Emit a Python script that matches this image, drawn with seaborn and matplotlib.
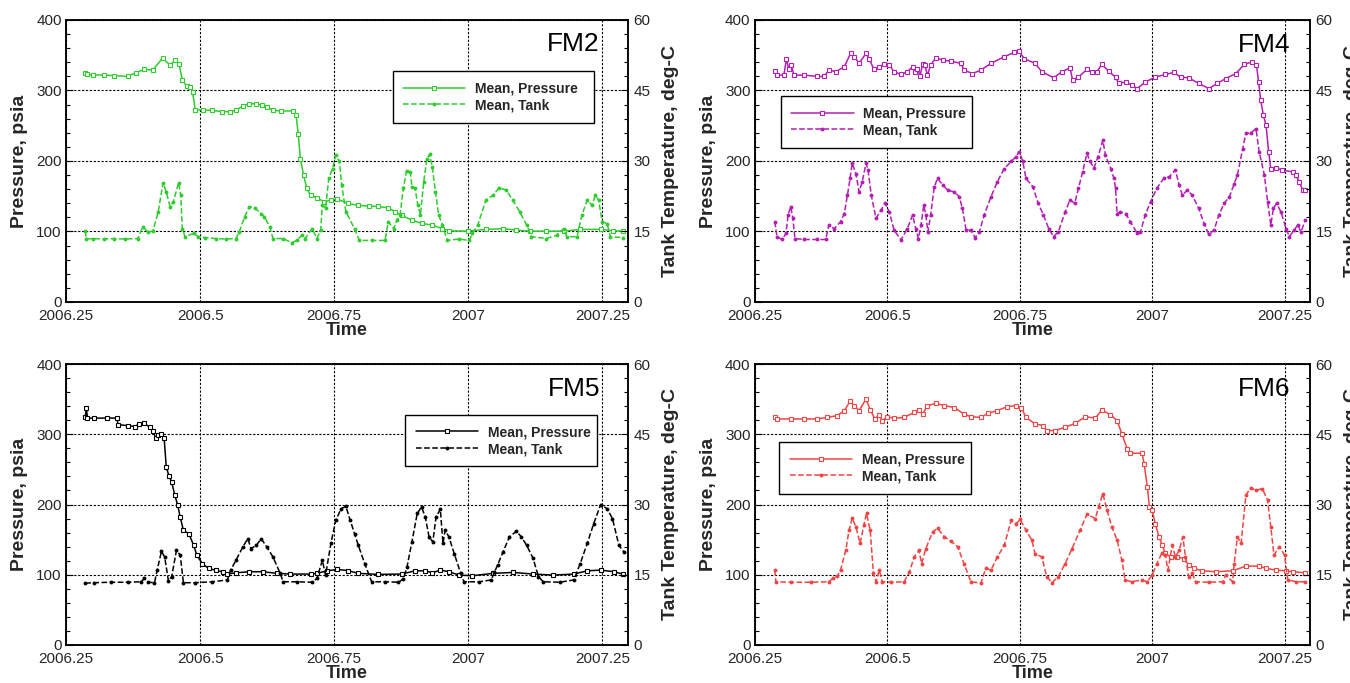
import numpy as np
import pandas as pd
import matplotlib
matplotlib.use("Agg")
import matplotlib.pyplot as plt
from matplotlib.ticker import MultipleLocator
import seaborn as sns

sns.set_style("white")
REG = ['Liberation Sans', 'DejaVu Sans']
NARROW = ['Liberation Sans Narrow', 'Liberation Sans', 'DejaVu Sans']
plt.rcParams['font.family'] = REG

# ---------------- data ----------------
# FM2
fm2_p_t = [2006.286, 2006.29, 2006.30, 2006.32, 2006.34, 2006.365, 2006.38, 2006.396, 2006.412, 2006.43,
           2006.444, 2006.453, 2006.461, 2006.467, 2006.475, 2006.482, 2006.486, 2006.491, 2006.505, 2006.523,
           2006.54, 2006.555, 2006.567, 2006.58, 2006.592, 2006.605, 2006.615, 2006.624, 2006.636, 2006.65,
           2006.674, 2006.679, 2006.683, 2006.687, 2006.693, 2006.699, 2006.706, 2006.718, 2006.731, 2006.744,
           2006.756, 2006.775, 2006.795, 2006.815, 2006.832, 2006.851, 2006.864, 2006.876, 2006.895, 2006.914,
           2006.933, 2006.952, 2006.964, 2007.0, 2007.033, 2007.065, 2007.09, 2007.115, 2007.145, 2007.178,
           2007.209, 2007.247, 2007.27, 2007.288]
fm2_p_v = [325.5, 322.7, 322, 322, 321, 320, 325, 330, 329, 346,
           336, 342.6, 337, 315, 306, 305, 298, 273, 272, 272,
           270, 270, 272, 278, 281.5, 281, 279, 277, 272, 271,
           271, 265, 239, 203.5, 180, 161, 151.5, 148, 142, 144.5,
           146, 140, 137, 136, 135.5, 133.5, 128, 123, 116, 111.5,
           109, 104, 101, 100.5, 103, 104, 102, 100.5, 100.5, 100.5,
           103, 103, 101, 100.5]
fm2_t_t = [2006.286, 2006.288, 2006.30, 2006.32, 2006.34, 2006.36, 2006.384, 2006.393, 2006.403, 2006.412,
           2006.422, 2006.431, 2006.437, 2006.444, 2006.45, 2006.46, 2006.464, 2006.467, 2006.472, 2006.488,
           2006.497, 2006.51, 2006.529, 2006.548, 2006.567, 2006.573, 2006.583, 2006.592, 2006.602, 2006.614,
           2006.62, 2006.63, 2006.636, 2006.655, 2006.671, 2006.68, 2006.69, 2006.696, 2006.709, 2006.718,
           2006.725, 2006.728, 2006.734, 2006.74, 2006.747, 2006.753, 2006.76, 2006.764, 2006.772, 2006.788,
           2006.797, 2006.82, 2006.845, 2006.851, 2006.861, 2006.867, 2006.873, 2006.879, 2006.885, 2006.892,
           2006.895, 2006.901, 2006.906, 2006.911, 2006.917, 2006.923, 2006.928, 2006.933, 2006.939, 2006.945,
           2006.952, 2006.961, 2006.983, 2007.002, 2007.008, 2007.018, 2007.033, 2007.046, 2007.058, 2007.071,
           2007.083, 2007.096, 2007.109, 2007.118, 2007.146, 2007.165, 2007.178, 2007.184, 2007.203, 2007.212,
           2007.222, 2007.231, 2007.237, 2007.243, 2007.25, 2007.259, 2007.265, 2007.288]
fm2_t_v = [15.1, 13.4, 13.5, 13.4, 13.5, 13.4, 13.5, 16.0, 14.9, 15.1,
           19.2, 25.4, 23.4, 20.3, 21.3, 25.4, 22.7, 15.6, 13.9, 14.6,
           13.9, 13.7, 13.5, 13.4, 13.5, 14.9, 18.1, 20.3, 20.0, 18.8,
           18.1, 16.0, 13.5, 13.5, 12.6, 13.1, 14.2, 13.5, 15.6, 13.5,
           15.3, 20.6, 19.9, 26.3, 28.4, 31.2, 29.9, 24.9, 19.2, 15.6,
           13.1, 13.1, 13.1, 17.1, 15.6, 17.4, 18.5, 24.2, 27.9, 27.7,
           24.5, 24.2, 20.6, 18.5, 25.5, 30.5, 31.4, 28.8, 23.4, 18.5,
           16.4, 13.1, 13.4, 13.1, 14.6, 16.4, 21.7, 22.7, 24.3, 23.8,
           21.7, 19.2, 16.4, 13.9, 13.5, 14.2, 15.6, 13.9, 13.9, 18.5,
           21.7, 20.6, 22.7, 21.7, 17.1, 16.7, 13.9, 13.7]

# FM4
fm4_p_t = [2006.288, 2006.293, 2006.305, 2006.31, 2006.314, 2006.319, 2006.324, 2006.343, 2006.368, 2006.381,
           2006.39, 2006.403, 2006.419, 2006.431, 2006.438, 2006.447, 2006.46, 2006.466, 2006.475, 2006.485,
           2006.494, 2006.504, 2006.513, 2006.526, 2006.538, 2006.548, 2006.553, 2006.557, 2006.562, 2006.567,
           2006.571, 2006.576, 2006.582, 2006.592, 2006.605, 2006.62, 2006.639, 2006.645, 2006.661, 2006.677,
           2006.696, 2006.721, 2006.74, 2006.749, 2006.759, 2006.779, 2006.792, 2006.814, 2006.83, 2006.845,
           2006.85, 2006.861, 2006.877, 2006.886, 2006.896, 2006.905, 2006.918, 2006.931, 2006.937, 2006.95,
           2006.962, 2006.972, 2006.987, 2007.006, 2007.025, 2007.041, 2007.054, 2007.069, 2007.088, 2007.107,
           2007.123, 2007.139, 2007.158, 2007.174, 2007.189, 2007.197, 2007.201, 2007.205, 2007.21, 2007.215,
           2007.22, 2007.224, 2007.234, 2007.246, 2007.265, 2007.271, 2007.278, 2007.284, 2007.289]
fm4_p_v = [327.4, 321.8, 321.8, 345, 331, 336, 321.8, 321.8, 320, 320,
           329, 326.7, 333.6, 352.5, 348, 338.5, 352.5, 345, 330, 333.6,
           337, 336, 326.7, 322.7, 326.7, 333.6, 326.7, 331, 321, 337,
           336, 321.8, 336, 346.5, 343, 341.6, 338.5, 329, 324, 329,
           338.5, 348, 354, 355.6, 345, 338.5, 326.7, 318, 326.7, 332,
           314.7, 319, 330, 326.7, 326.7, 337, 327.4, 319, 310, 312,
           307.6, 302.8, 312, 319, 322.7, 325.6, 319, 318, 310, 302.8,
           310, 317, 324, 337, 340.7, 336, 312, 286, 265, 251,
           213, 189, 190, 187, 184.6, 180, 170.5, 158.6, 158.6]
fm4_t_t = [2006.288, 2006.292, 2006.302, 2006.309, 2006.313, 2006.318, 2006.322, 2006.326, 2006.343, 2006.368,
           2006.384, 2006.39, 2006.40, 2006.412, 2006.419, 2006.425, 2006.43, 2006.434, 2006.441, 2006.447,
           2006.453, 2006.46, 2006.464, 2006.47, 2006.479, 2006.488, 2006.496, 2006.504, 2006.513, 2006.526,
           2006.538, 2006.548, 2006.554, 2006.559, 2006.564, 2006.569, 2006.573, 2006.577, 2006.582, 2006.589,
           2006.595, 2006.605, 2006.614, 2006.627, 2006.636, 2006.642, 2006.649, 2006.658, 2006.666, 2006.674,
           2006.683, 2006.696, 2006.708, 2006.721, 2006.734, 2006.743, 2006.749, 2006.756, 2006.762, 2006.775,
           2006.785, 2006.795, 2006.805, 2006.814, 2006.823, 2006.836, 2006.845, 2006.854, 2006.861, 2006.869,
           2006.877, 2006.883, 2006.89, 2006.898, 2006.907, 2006.912, 2006.922, 2006.928, 2006.931, 2006.934,
           2006.94, 2006.95, 2006.959, 2006.972, 2006.978, 2006.987, 2006.997, 2007.009, 2007.022, 2007.032,
           2007.044, 2007.051, 2007.057, 2007.066, 2007.076, 2007.088, 2007.098, 2007.107, 2007.117, 2007.126,
           2007.136, 2007.146, 2007.155, 2007.161, 2007.171, 2007.177, 2007.186, 2007.196, 2007.202, 2007.212,
           2007.218, 2007.224, 2007.229, 2007.235, 2007.243, 2007.253, 2007.259, 2007.268, 2007.275, 2007.281,
           2007.289]
fm4_t_v = [17.1, 13.9, 13.3, 14.6, 18.5, 20.3, 17.8, 13.5, 13.3, 13.3,
           13.3, 16.4, 15.6, 17.1, 18.8, 22.7, 26.3, 29.5, 27.3, 23.4,
           25.6, 29.5, 28.1, 22.7, 17.8, 19.5, 21.0, 19.2, 15.3, 13.2,
           15.6, 18.5, 15.6, 13.5, 16.4, 20.6, 18.5, 14.9, 18.5, 24.5,
           26.3, 24.9, 23.8, 23.4, 22.4, 19.9, 15.3, 15.3, 13.7, 14.9,
           18.5, 22.4, 25.6, 28.4, 29.9, 30.9, 32.0, 29.9, 26.3, 24.5,
           21.0, 18.5, 15.6, 13.9, 14.9, 19.2, 21.7, 21.0, 24.2, 27.7,
           31.6, 29.9, 28.5, 30.9, 34.4, 31.2, 28.4, 26.3, 24.2, 18.8,
           19.2, 18.8, 17.1, 14.6, 14.9, 18.5, 21.3, 24.2, 26.3, 26.6,
           28.1, 24.9, 22.7, 23.8, 22.7, 19.9, 16.7, 14.4, 15.3, 18.5,
           21.0, 22.4, 25.2, 27.0, 32.6, 35.9, 35.9, 36.9, 32.0, 27.0,
           21.3, 16.4, 19.9, 21.0, 19.2, 15.6, 13.9, 15.3, 16.4, 14.9,
           17.4]

# FM5
fm5_p_t = [2006.286, 2006.288, 2006.29, 2006.302, 2006.327, 2006.345, 2006.347, 2006.365, 2006.378, 2006.387,
           2006.396, 2006.406, 2006.412, 2006.417, 2006.422, 2006.428, 2006.433, 2006.437, 2006.442, 2006.447,
           2006.453, 2006.458, 2006.463, 2006.469, 2006.479, 2006.488, 2006.494, 2006.504, 2006.516, 2006.529,
           2006.542, 2006.551, 2006.567, 2006.592, 2006.617, 2006.643, 2006.668, 2006.706, 2006.718, 2006.737,
           2006.756, 2006.775, 2006.795, 2006.832, 2006.876, 2006.901, 2006.92, 2006.933, 2006.948, 2006.964,
           2006.983, 2007.008, 2007.046, 2007.084, 2007.121, 2007.159, 2007.197, 2007.222, 2007.247, 2007.272,
           2007.288]
fm5_p_v = [324, 338, 323, 323, 323, 323, 313.7, 312.3, 311, 314.7,
           315.6, 310, 305.3, 294.8, 299.5, 300.5, 294.8, 253, 241, 232,
           213, 200, 182, 163, 158.6, 142, 127.9, 116, 108.9, 106.6,
           104, 101, 102.8, 104.3, 104.3, 102, 101, 101, 102, 105.6,
           107.5, 106, 102, 100.5, 101, 105.6, 105.6, 102.8, 106.6, 104.3,
           99.5, 98.6, 102, 103.3, 101, 99.5, 101, 105.6, 106.6, 104.3,
           101]
fm5_t_t = [2006.286, 2006.302, 2006.333, 2006.365, 2006.39, 2006.396, 2006.403, 2006.415, 2006.42, 2006.428,
           2006.434, 2006.441, 2006.447, 2006.456, 2006.463, 2006.469, 2006.491, 2006.523, 2006.551, 2006.557,
           2006.567, 2006.58, 2006.589, 2006.595, 2006.605, 2006.614, 2006.624, 2006.636, 2006.649, 2006.655,
           2006.68, 2006.709, 2006.718, 2006.728, 2006.734, 2006.744, 2006.753, 2006.763, 2006.772, 2006.78,
           2006.788, 2006.795, 2006.807, 2006.82, 2006.845, 2006.87, 2006.879, 2006.886, 2006.895, 2006.905,
           2006.913, 2006.92, 2006.927, 2006.934, 2006.94, 2006.948, 2006.953, 2006.957, 2006.964, 2006.974,
           2006.986, 2006.992, 2007.021, 2007.043, 2007.049, 2007.055, 2007.065, 2007.077, 2007.09, 2007.099,
           2007.109, 2007.121, 2007.131, 2007.14, 2007.171, 2007.197, 2007.209, 2007.222, 2007.234, 2007.247,
           2007.259, 2007.269, 2007.281, 2007.29]
fm5_t_v = [13.2, 13.3, 13.4, 13.4, 13.5, 14.2, 13.4, 13.3, 16.0, 20.0,
           18.8, 13.7, 14.6, 20.2, 19.2, 13.3, 13.3, 13.5, 13.9, 16.0,
           18.1, 21.0, 22.7, 20.6, 21.3, 22.7, 21.0, 18.8, 15.4, 13.5,
           13.5, 13.4, 14.2, 18.1, 14.9, 21.7, 26.6, 29.1, 29.6, 26.6,
           23.8, 21.3, 17.4, 13.5, 13.5, 13.4, 14.1, 16.7, 22.0, 28.1,
           29.5, 27.3, 23.1, 22.0, 27.3, 29.0, 21.7, 24.5, 23.1, 19.5,
           15.3, 13.5, 13.5, 13.9, 15.6, 17.1, 19.9, 23.1, 24.3, 23.1,
           21.3, 18.5, 14.6, 13.5, 13.4, 13.9, 17.4, 21.7, 25.9, 30.0,
           29.1, 27.0, 21.3, 19.9]

# FM6
fm6_p_t = [2006.288, 2006.293, 2006.318, 2006.343, 2006.368, 2006.387, 2006.406, 2006.419, 2006.43, 2006.438,
           2006.447, 2006.46, 2006.468, 2006.477, 2006.485, 2006.491, 2006.50, 2006.513, 2006.532, 2006.551,
           2006.56, 2006.567, 2006.576, 2006.592, 2006.608, 2006.627, 2006.645, 2006.658, 2006.677, 2006.69,
           2006.708, 2006.727, 2006.743, 2006.753, 2006.762, 2006.779, 2006.795, 2006.801, 2006.817, 2006.836,
           2006.855, 2006.874, 2006.893, 2006.905, 2006.921, 2006.934, 2006.943, 2006.953, 2006.958, 2006.981,
           2006.985, 2006.991, 2006.995, 2007.0, 2007.006, 2007.013, 2007.019, 2007.025, 2007.035, 2007.047,
           2007.06, 2007.069, 2007.079, 2007.095, 2007.12, 2007.152, 2007.177, 2007.202, 2007.215, 2007.234,
           2007.253, 2007.265, 2007.289]
fm6_p_v = [325, 321.8, 321.8, 321.8, 321.8, 324, 326.5, 333.6, 346.8, 340.7,
           333.6, 350, 335, 321.8, 327.9, 319.4, 325, 322.7, 324, 331,
           335, 328.6, 340.7, 344, 340.7, 338, 328.6, 325, 324, 329.8,
           333.6, 339.5, 340.7, 338, 324, 314.7, 312.3, 305.3, 305.3, 310,
           315.6, 325, 323, 334.5, 327.9, 319.4, 300.5, 279, 273, 273,
           258, 224.8, 196.5, 191.7, 172.8, 154, 142, 130.3, 125.5, 125.5,
           123, 113.7, 109, 105.6, 104.3, 105.6, 112.3, 112.3, 109, 106.6,
           105.6, 104.3, 102.8]
fm6_t_t = [2006.288, 2006.29, 2006.318, 2006.356, 2006.39, 2006.397, 2006.406, 2006.412, 2006.422, 2006.428,
           2006.434, 2006.441, 2006.449, 2006.456, 2006.461, 2006.468, 2006.474, 2006.479, 2006.485, 2006.491,
           2006.507, 2006.532, 2006.542, 2006.551, 2006.56, 2006.565, 2006.573, 2006.586, 2006.595, 2006.608,
           2006.62, 2006.633, 2006.645, 2006.658, 2006.677, 2006.686, 2006.696, 2006.708, 2006.721, 2006.734,
           2006.743, 2006.751, 2006.762, 2006.773, 2006.779, 2006.792, 2006.801, 2006.811, 2006.823, 2006.836,
           2006.849, 2006.864, 2006.877, 2006.893, 2006.899, 2006.907, 2006.915, 2006.924, 2006.934, 2006.943,
           2006.949, 2006.962, 2006.981, 2006.991, 2007.0, 2007.009, 2007.019, 2007.025, 2007.03, 2007.038,
           2007.044, 2007.051, 2007.058, 2007.063, 2007.069, 2007.076, 2007.082, 2007.107, 2007.133, 2007.139,
           2007.152, 2007.155, 2007.161, 2007.168, 2007.177, 2007.186, 2007.196, 2007.208, 2007.218, 2007.224,
           2007.23, 2007.24, 2007.25, 2007.256, 2007.272, 2007.289]
fm6_t_v = [16.0, 13.5, 13.4, 13.4, 13.5, 14.2, 14.7, 16.0, 20.3, 24.5,
           27.1, 25.2, 21.7, 25.6, 28.1, 24.5, 15.3, 13.5, 16.0, 13.5,
           13.4, 13.5, 15.6, 18.8, 20.2, 17.4, 20.6, 24.2, 24.9, 23.1,
           22.2, 21.0, 17.4, 13.5, 13.2, 16.4, 16.0, 18.8, 21.3, 26.6,
           25.9, 26.8, 24.5, 22.4, 19.5, 18.8, 14.6, 13.3, 14.6, 17.4,
           20.6, 24.5, 27.9, 27.0, 29.5, 32.3, 28.8, 25.2, 22.4, 18.1,
           13.9, 13.5, 13.9, 13.5, 14.9, 17.4, 19.7, 19.2, 16.0, 21.3,
           18.8, 20.2, 23.1, 18.8, 14.6, 15.3, 13.5, 13.4, 13.5, 14.9,
           13.5, 17.4, 23.1, 21.7, 32.0, 33.6, 33.0, 33.4, 30.9, 25.2,
           19.2, 21.0, 19.2, 13.9, 13.5, 13.5]

panels = ["FM2", "FM4", "FM5", "FM6"]
colors = {"FM2": "#2fcc2f", "FM4": "#b21fb2", "FM5": "#000000", "FM6": "#f04545"}
pressure = {"FM2": (fm2_p_t, fm2_p_v), "FM4": (fm4_p_t, fm4_p_v),
            "FM5": (fm5_p_t, fm5_p_v), "FM6": (fm6_p_t, fm6_p_v)}
tank = {"FM2": (fm2_t_t, fm2_t_v), "FM4": (fm4_t_t, fm4_t_v),
        "FM5": (fm5_t_t, fm5_t_v), "FM6": (fm6_t_t, fm6_t_v)}

x_ticks = [2006.25, 2006.5, 2006.75, 2007, 2007.25]
x_labels = ["2006.25", "2006.5", "2006.75", "2007", "2007.25"]
p_ticks = [0, 100, 200, 300, 400]
t_ticks = [0, 15, 30, 45, 60]

# layout (figure fractions) and legend boxes (axes fractions)
W, H = 1350, 683
ax_rects = {"FM2": [66 / W, (H - 302) / H, 562 / W, 282 / H],
            "FM4": [754.7 / W, (H - 302) / H, 555.3 / W, 282 / H],
            "FM5": [66 / W, (H - 645) / H, 562 / W, 281 / H],
            "FM6": [754.7 / W, (H - 645) / H, 555.3 / W, 281 / H]}
leg_boxes = {"FM2": (0.581, 0.819, 0.359), "FM4": (0.047, 0.730, 0.345),
             "FM5": (0.604, 0.819, 0.340), "FM6": (0.044, 0.722, 0.345)}
name_pos = {"FM2": (0.950, 0.915), "FM4": (0.964, 0.911),
            "FM5": (0.950, 0.911), "FM6": (0.964, 0.911)}

fig = plt.figure(figsize=(13.5, 6.83), dpi=100)

for name in panels:
    c = colors[name]
    ax = fig.add_axes(ax_rects[name])
    ax2 = ax.twinx()
    pt, pv = pressure[name]
    tt, tv = tank[name]
    dfp = pd.DataFrame({"Time": pt, "Pressure": pv})
    dft = pd.DataFrame({"Time": tt, "Tank": tv})
    sns.lineplot(data=dfp, x="Time", y="Pressure", ax=ax, color=c, lw=1.1,
                 marker="s", markersize=3.2, markerfacecolor="white", markeredgecolor=c,
                 markeredgewidth=0.8, errorbar=None, label="Mean, Pressure", legend=False)
    sns.lineplot(data=dft, x="Time", y="Tank", ax=ax2, color=c, lw=1.1, linestyle="--",
                 marker="o", markersize=2.8, markerfacecolor=c, markeredgecolor=c,
                 markeredgewidth=0, errorbar=None, label="Mean, Tank", legend=False)

    ax.set_xlim(2006.25, 2007.298)
    ax.set_ylim(0, 400)
    ax2.set_ylim(0, 60)
    ax.set_xticks(x_ticks)
    ax.set_xticklabels(x_labels)
    ax.xaxis.set_minor_locator(MultipleLocator(0.05))
    ax.set_yticks(p_ticks)
    ax.yaxis.set_minor_locator(MultipleLocator(20))
    ax2.set_yticks(t_ticks)
    ax2.yaxis.set_minor_locator(MultipleLocator(3))

    for a in (ax, ax2):
        a.tick_params(which="major", direction="in", length=5, width=0.8, color="black")
        a.tick_params(which="minor", direction="in", length=3, width=0.8, color="black")
        for s in a.spines.values():
            s.set_color("black")
            s.set_linewidth(1.1)
    ax.tick_params(axis="both", which="both", top=False, right=False)
    ax.tick_params(axis="x", labelsize=11, pad=5)
    ax.tick_params(axis="y", labelsize=11, pad=3)
    ax2.tick_params(axis="y", labelsize=11, pad=4)
    for lab in ax.get_xticklabels() + ax.get_yticklabels() + ax2.get_yticklabels():
        lab.set_family(NARROW)

    ax.grid(True, which="major", color="black", linestyle=(0, (2, 1.5)), linewidth=0.8)
    ax2.grid(False)

    ax.set_xlabel("Time", fontsize=13, fontweight="bold", labelpad=-1)
    ax.set_ylabel("Pressure, psia", fontsize=14, fontweight="bold", labelpad=6)
    ax2.set_ylabel("Tank Temperature, deg-C", fontsize=14, fontweight="bold", labelpad=8)

    nx, ny = name_pos[name]
    ax2.text(nx, ny, name, transform=ax2.transAxes, ha="right", va="center",
             fontsize=19, color="black")

    handles = ax.get_lines()[:1] + ax2.get_lines()[:1]
    x0, ytop, w = leg_boxes[name]
    leg = ax2.legend(handles, ["Mean, Pressure", "Mean, Tank"], loc="upper left",
                     bbox_to_anchor=(x0, ytop - 0.2, w, 0.2), mode="expand",
                     borderaxespad=0, prop={"weight": "bold", "size": 10},
                     handlelength=4.5, handletextpad=0.7, labelspacing=0.2,
                     borderpad=0.75, frameon=True, fancybox=False, framealpha=1,
                     edgecolor="black")
    leg.get_frame().set_linewidth(1.0)

fig.savefig("out.png", dpi=100)
